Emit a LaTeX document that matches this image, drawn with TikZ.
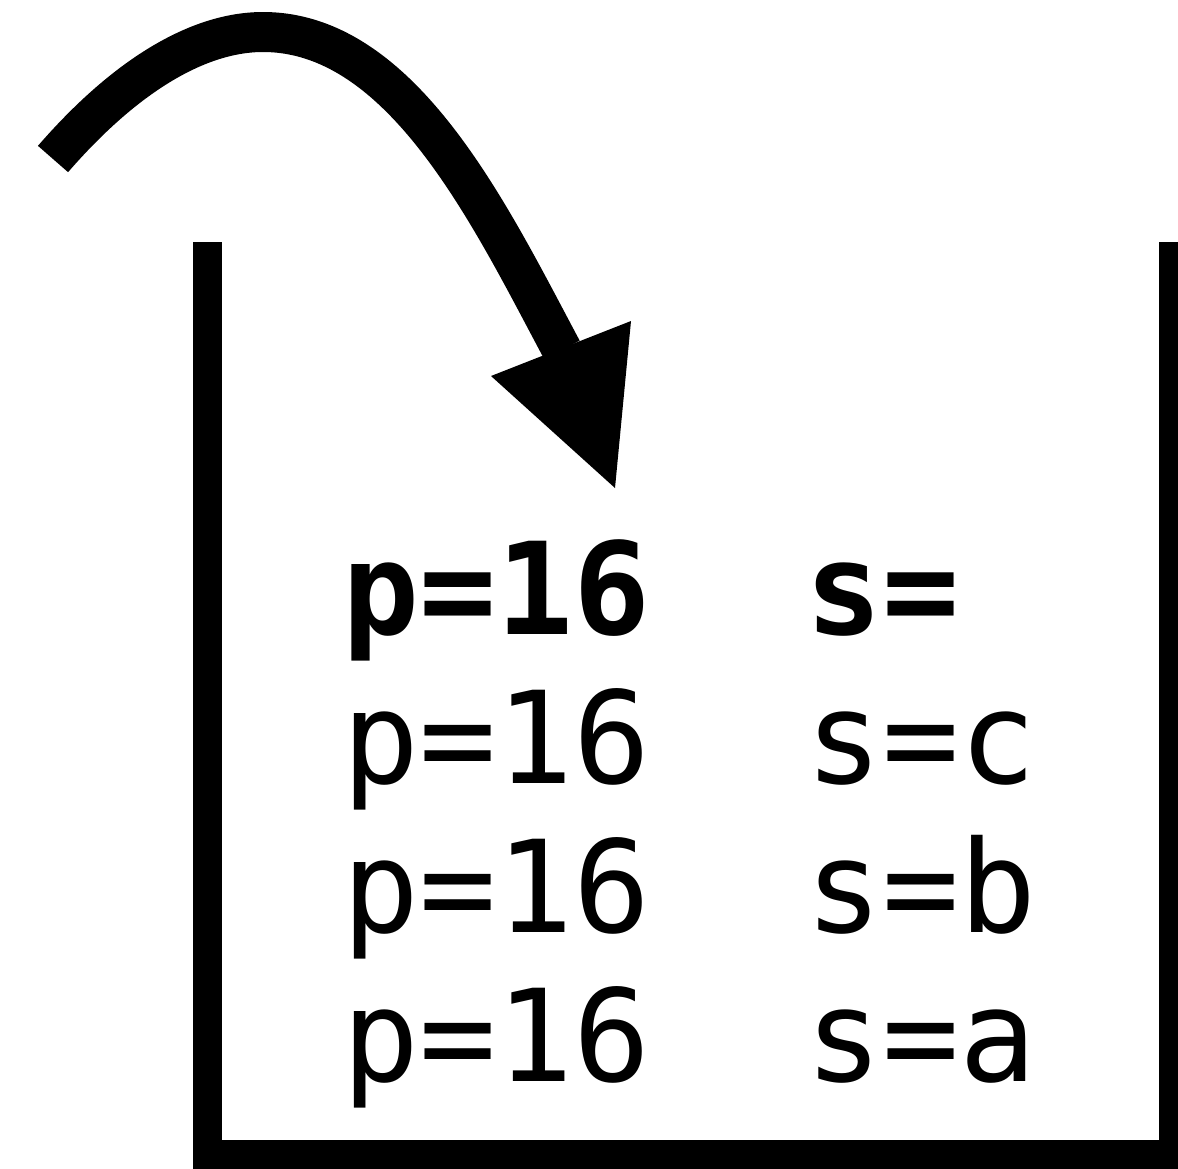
\documentclass[tikz,border=0pt]{standalone}
\usepackage{fontspec}
\newfontfamily\dvmono{DejaVu Sans Mono}
\begin{document}
\begin{tikzpicture}[x=1pt,y=-1pt,
  cell/.style={anchor=base west,inner sep=0pt,font=\dvmono\fontsize{128}{149}\selectfont},
  boldcell/.style={cell,font=\dvmono\fontsize{128}{149}\selectfont\bfseries},
  wall/.style={line width=29pt},
  shaft/.style={line width=40pt}]
\useasboundingbox (0,0) rectangle (1178,1168);
% container
\coordinate (tl) at (207.5,242);
\coordinate (bl) at (207.5,1154.5);
\coordinate (br) at (1173.5,1154.5);
\coordinate (tr) at (1173.5,242);
\draw[wall] (tl) -- (bl) -- (br) -- (tr);
% arrow
\coordinate (start) at (53,159);
\coordinate (peak) at (263,32);
\coordinate (headbase) at (562,350);
\coordinate (hl) at (491,376);
\coordinate (hr) at (631,321);
\coordinate (tip) at (615,488);
\draw[shaft] (start) .. controls (125,76) and (198,32) .. (peak)
   .. controls (403,32) and (491,217) .. (headbase);
\fill (hl) -- (hr) -- (tip) -- cycle;
% text
\node[boldcell] (p1) at (342.5,634) {p=16};
\node[boldcell] (s1) at (805,634) {s=};
\node[cell] (p2) at (342.5,783) {p=16};
\node[cell] (s2) at (805,783) {s=c};
\node[cell] (p3) at (342.5,932) {p=16};
\node[cell] (s3) at (805,932) {s=b};
\node[cell] (p4) at (342.5,1081) {p=16};
\node[cell] (s4) at (805,1081) {s=a};
\end{tikzpicture}
\end{document}
